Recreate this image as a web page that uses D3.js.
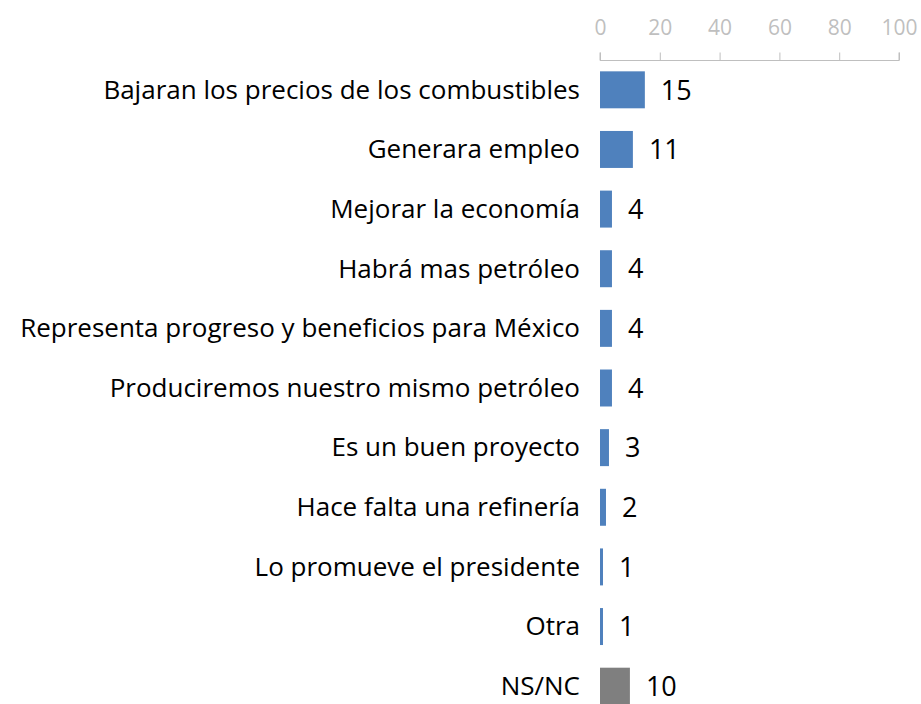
<!DOCTYPE html>
<html lang="es">
<head>
  <meta charset="UTF-8">
  <title>d3</title>
  <script src="https://d3js.org/d3.v7.min.js"></script>
  <style>
    body { margin: 0; background: #fff; }
  </style>
</head>
<body>
  <div class="canvas"></div>
  <script>
    const categories = [
      'Bajaran los precios de los combustibles',
      'Generara empleo',
      'Mejorar la economía',
      'Habrá mas petróleo',
      'Representa progreso y beneficios para México',
      'Produciremos nuestro mismo petróleo',
      'Es un buen proyecto',
      'Hace falta una refinería',
      'Lo promueve el presidente',
      'Otra',
      'NS/NC'
    ];
    const values = [15, 11, 4, 4, 4, 4, 3, 2, 1, 1, 10];
    const ticks = [0, 20, 40, 60, 80, 100];

    const width = 921;
    const height = 704;
    const font = '"Open Sans", sans-serif';

    const svg = d3.select('.canvas')
                    .append('svg')
                    .attr('width', width)
                    .attr('height', height);

    const x = d3.scaleLinear().domain([0, 100]).range([600, 899]);
    const y = d3.scaleBand()
                  .domain(categories)
                  .range([60, 716])
                  .paddingInner(0.38)
                  .paddingOuter(0.19);

    // eje superior
    const xAxis = d3.axisTop(x).tickValues(ticks).tickSize(8).tickPadding(18);
    const axisG = svg.append('g')
                      .attr('transform', 'translate(0, 60.5)')
                      .call(xAxis);
    axisG.selectAll('path, line').attr('stroke', '#bfbfbf');
    axisG.select('.domain').attr('d', `M${x(0)},-8V0H${x(100)}V-8`);
    axisG.selectAll('text')
          .attr('fill', '#bfbfbf')
          .style('font-family', font)
          .style('font-size', '21px');

    // barras
    svg.selectAll('rect.bar')
        .data(categories)
        .enter()
        .append('rect')
        .attr('class', 'bar')
        .attr('x', x(0))
        .attr('y', d => y(d))
        .attr('width', (d, i) => x(values[i]) - x(0))
        .attr('height', y.bandwidth())
        .attr('fill', d => d === 'NS/NC' ? '#7f7f7f' : '#4f81bd');

    // valores
    svg.selectAll('text.val')
        .data(categories)
        .enter()
        .append('text')
        .attr('class', 'val')
        .attr('x', (d, i) => x(values[i]) + 16)
        .attr('y', d => y(d) + y.bandwidth() / 2)
        .attr('dy', '0.36em')
        .style('font-family', font)
        .style('font-size', '27px')
        .text((d, i) => values[i]);

    // categorias
    svg.selectAll('text.cat')
        .data(categories)
        .enter()
        .append('text')
        .attr('class', 'cat')
        .attr('x', 580)
        .attr('y', d => y(d) + y.bandwidth() / 2)
        .attr('dy', '0.34em')
        .attr('text-anchor', 'end')
        .style('font-family', font)
        .style('font-size', '26px')
        .text(d => d);
  </script>
</body>
</html>
